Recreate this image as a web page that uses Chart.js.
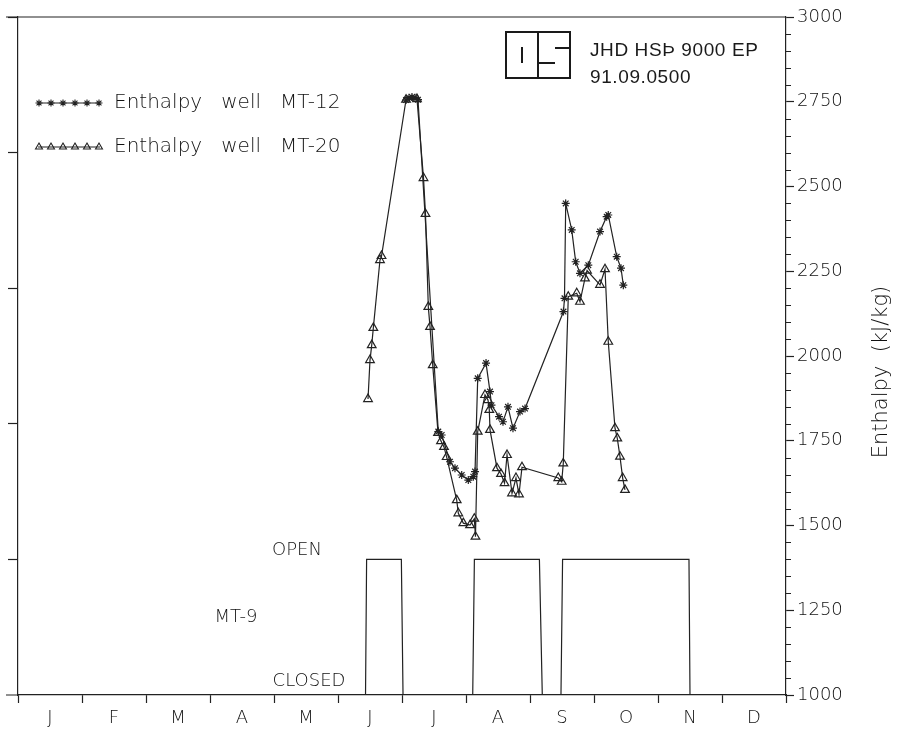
<!DOCTYPE html>
<html>
<head>
<meta charset="utf-8">
<title>Enthalpy of wells MT-12 and MT-20, 1991</title>
<script src="https://cdn.jsdelivr.net/npm/chart.js@4.4.1/dist/chart.umd.min.js"></script>
<style>
  html, body { margin: 0; padding: 0; background: #ffffff; }
  #wrap { width: 912px; height: 730px; }
</style>
</head>
<body>
<div id="wrap"><canvas id="chart" width="912" height="730"></canvas></div>
<script>
// Month initials along the time axis (1991)
const monthLabels = ['J', 'F', 'M', 'A', 'M', 'J', 'J', 'A', 'S', 'O', 'N', 'D'];

// Time is expressed in months from 1 January (0 = 1 Jan, 12 = 31 Dec)
const mt12Time = [6.063, 6.109, 6.156, 6.203, 6.250,
  6.567, 6.620, 6.750, 6.828, 6.933, 7.036, 7.114, 7.141,
  7.183, 7.313, 7.375, 7.398, 7.516, 7.578, 7.656, 7.734, 7.844, 7.922,
  8.523, 8.539, 8.558, 8.652, 8.714, 8.781, 8.911, 9.094, 9.198, 9.223,
  9.355, 9.422, 9.458];
const mt12Enthalpy = [2755, 2762, 2764, 2762, 2756,
  1777, 1767, 1688, 1669, 1649, 1634, 1644, 1659,
  1934, 1979, 1895, 1855, 1821, 1806, 1850, 1787, 1836, 1845,
  2131, 2170, 2450, 2372, 2278, 2244, 2268, 2367, 2411, 2416,
  2293, 2259, 2209];

const mt20Time = [5.469, 5.500, 5.527, 5.552, 5.656, 5.680,
  6.063, 6.234, 6.336, 6.367, 6.411, 6.438, 6.480,
  6.563, 6.609, 6.656, 6.698, 6.855, 6.880, 6.958, 7.063, 7.130, 7.148,
  7.183, 7.297, 7.344, 7.364, 7.375, 7.484, 7.547, 7.602, 7.641, 7.719,
  7.781, 7.828, 7.875, 8.442, 8.495, 8.520, 8.598, 8.730, 8.781, 8.859,
  8.891, 9.094, 9.172, 9.223, 9.328, 9.364, 9.406, 9.448, 9.484];
const mt20Enthalpy = [1873, 1988, 2032, 2083, 2283, 2295,
  2756, 2758, 2525, 2419, 2145, 2086, 1973,
  1773, 1749, 1732, 1702, 1575, 1536, 1507, 1501, 1520, 1467,
  1777, 1885, 1870, 1841, 1782, 1669, 1652, 1625, 1708, 1595,
  1640, 1592, 1672, 1640, 1629, 1683, 2175, 2185, 2160, 2229,
  2252, 2210, 2256, 2042, 1787, 1757, 1703, 1640, 1605];

// Well MT-9: 0 = closed, 1 = open
const mt9Time = [5.430, 5.447, 5.990, 6.016, 7.105, 7.131, 8.147, 8.192,
  8.484, 8.509, 10.484, 10.500];
const mt9Open = [0, 1, 1, 0, 0, 1, 1, 0, 0, 1, 1, 0];

// Levels on the enthalpy scale where the MT-9 state is drawn
const mt9ClosedLevel = 1000;
const mt9OpenLevel = 1400;

// Ticks of the unlabelled left axis
const leftAxisTicks = [1400, 1800, 2200, 2600, 3000];

const FONT = '"DejaVu Sans", "Liberation Sans", sans-serif';
const INK = '#222222';
const TEXT = '#111111';
const THIN = '200';

const pts = (xs, ys) => xs.map((x, i) => ({ x: x, y: ys[i] }));

// Frame, minor ticks, axis title, legend, stamp and MT-9 annotations
const decor = {
  id: 'decor',
  afterDraw(chart) {
    const ctx = chart.ctx;
    const a = chart.chartArea;
    const yS = chart.scales.y;
    ctx.save();
    ctx.strokeStyle = INK;
    ctx.lineWidth = 1.2;

    // top frame line and left overhang of the bottom line
    ctx.beginPath();
    ctx.moveTo(6, a.top); ctx.lineTo(a.right, a.top);
    ctx.moveTo(6, a.bottom); ctx.lineTo(a.left, a.bottom);
    ctx.stroke();

    // minor ticks on the enthalpy axis
    ctx.beginPath();
    for (let v = yS.min; v <= yS.max; v += 50) {
      if (v % 250 === 0) continue;
      const py = Math.round(yS.getPixelForValue(v)) + 0.5;
      ctx.moveTo(a.right, py); ctx.lineTo(a.right + 5, py);
    }
    ctx.stroke();

    // axis title, reading upwards
    ctx.fillStyle = TEXT;
    ctx.font = THIN + ' 21px ' + FONT;
    ctx.textAlign = 'center';
    ctx.textBaseline = 'middle';
    ctx.save();
    ctx.translate(882, 372);
    ctx.rotate(-Math.PI / 2);
    ctx.fillText('Enthalpy  (kJ/kg)', 0, 0);
    ctx.restore();

    // legend
    const ds = chart.data.datasets;
    const rows = [{ d: ds[0], y: 103, text: 'Enthalpy   well   MT-12' },
                  { d: ds[1], y: 147, text: 'Enthalpy   well   MT-20' }];
    rows.forEach(r => {
      ctx.strokeStyle = INK;
      ctx.lineWidth = 1.2;
      ctx.beginPath();
      ctx.moveTo(38, r.y); ctx.lineTo(100, r.y);
      ctx.stroke();
      ctx.fillStyle = 'rgba(255,255,255,0)';
      ctx.lineWidth = 1.1;
      for (let i = 0; i < 6; i++) {
        Chart.helpers.drawPoint(ctx, {
          pointStyle: r.d.pointStyle,
          radius: r.d.pointStyle === 'star' ? 3.5 : 4,
          rotation: 0,
          borderWidth: 1.1
        }, 39 + i * 12, r.y);
      }
      ctx.fillStyle = TEXT;
      ctx.font = THIN + ' 20px ' + FONT;
      ctx.textAlign = 'left';
      ctx.textBaseline = 'middle';
      ctx.fillText(r.text, 114, r.y);
    });

    // stamp with logo
    ctx.strokeStyle = '#1a1a1a';
    ctx.lineWidth = 2;
    ctx.strokeRect(506, 32, 64, 46);
    ctx.beginPath();
    ctx.moveTo(538, 32); ctx.lineTo(538, 78);
    ctx.moveTo(522, 47); ctx.lineTo(522, 63);
    ctx.moveTo(555, 48); ctx.lineTo(570, 48);
    ctx.moveTo(538, 63); ctx.lineTo(555, 63);
    ctx.stroke();
    ctx.fillStyle = '#1a1a1a';
    ctx.font = '19px "Liberation Sans", Arial, sans-serif';
    ctx.textAlign = 'left';
    ctx.textBaseline = 'alphabetic';
    ctx.letterSpacing = '0.6px';
    ctx.fillText('JHD HSÞ 9000 EP', 590, 56);
    ctx.fillText('91.09.0500', 590, 83);
    ctx.letterSpacing = '0px';

    // MT-9 state annotations
    ctx.fillStyle = TEXT;
    ctx.font = THIN + ' 18px ' + FONT;
    ctx.textAlign = 'center';
    ctx.textBaseline = 'middle';
    ctx.fillText('OPEN', 297, 550);
    ctx.fillText('MT-9', 236, 617);
    ctx.fillText('CLOSED', 309, 681);
    ctx.restore();
  }
};

new Chart(document.getElementById('chart'), {
  type: 'line',
  data: {
    datasets: [
      {
        label: 'Enthalpy well MT-12',
        data: pts(mt12Time, mt12Enthalpy),
        borderColor: INK, borderWidth: 1.2,
        pointStyle: 'star', pointRadius: 4,
        pointBorderColor: INK, pointBorderWidth: 1.2,
        tension: 0, yAxisID: 'y'
      },
      {
        label: 'Enthalpy well MT-20',
        data: pts(mt20Time, mt20Enthalpy),
        borderColor: INK, borderWidth: 1.2,
        pointStyle: 'triangle', pointRadius: 5,
        pointBorderColor: INK, pointBorderWidth: 1.2,
        pointBackgroundColor: 'rgba(255,255,255,0)',
        tension: 0, yAxisID: 'y'
      },
      {
        label: 'MT-9',
        data: pts(mt9Time, mt9Open.map(s => mt9ClosedLevel + s * (mt9OpenLevel - mt9ClosedLevel))),
        borderColor: INK, borderWidth: 1.2,
        pointRadius: 0, tension: 0, yAxisID: 'y'
      }
    ]
  },
  options: {
    responsive: false,
    animation: false,
    layout: { padding: { top: 17, left: 0, right: 0, bottom: 0 } },
    plugins: { legend: { display: false }, tooltip: { enabled: false } },
    scales: {
      x: {
        type: 'linear', position: 'bottom', min: 0, max: 12,
        afterBuildTicks: s => {
          const t = [];
          for (let i = 0; i <= 24; i++) t.push({ value: i / 2 });
          s.ticks = t;
        },
        afterFit: s => { s.height = 35; },
        ticks: {
          autoSkip: false, maxRotation: 0, minRotation: 0, padding: 5,
          color: TEXT, font: { family: FONT, size: 18, weight: THIN },
          callback: v => (v % 1 ? monthLabels[Math.floor(v)] : '')
        },
        grid: {
          drawOnChartArea: false, tickLength: 8, tickWidth: 1.2,
          tickColor: c => (c.tick && c.tick.value % 1 ? 'rgba(0,0,0,0)' : INK)
        },
        border: { color: INK, width: 1.2 }
      },
      y: {
        type: 'linear', position: 'right', min: 1000, max: 3000,
        afterFit: s => { s.width = 126; },
        ticks: {
          stepSize: 250, padding: 3, color: TEXT,
          font: { family: FONT, size: 18, weight: THIN },
          callback: v => String(v)
        },
        grid: { drawOnChartArea: false, tickLength: 8, tickWidth: 1.2, tickColor: INK },
        border: { color: INK, width: 1.2 }
      },
      yL: {
        type: 'linear', position: 'left', min: 1000, max: 3000,
        afterBuildTicks: s => { s.ticks = leftAxisTicks.map(v => ({ value: v })); },
        afterFit: s => { s.width = 18; },
        ticks: { display: false },
        grid: { drawOnChartArea: false, tickLength: 10, tickWidth: 1.2, tickColor: INK },
        border: { color: INK, width: 1.2 }
      }
    }
  },
  plugins: [decor]
});
</script>
</body>
</html>
